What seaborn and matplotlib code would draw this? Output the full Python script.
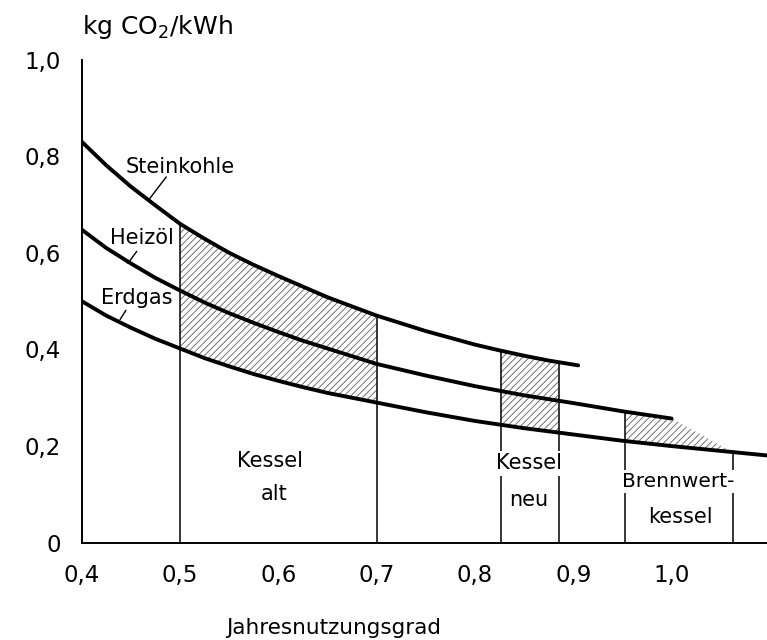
import numpy as np
import pandas as pd
import matplotlib
matplotlib.use('Agg')
import matplotlib.pyplot as plt
import seaborn as sns

# Werte (kg CO2 je kWh Nutzwärme)
eta_kohle = [0.40, 0.425, 0.45, 0.475, 0.50, 0.525, 0.55, 0.575, 0.60, 0.625, 0.65, 0.675,
             0.70, 0.75, 0.80, 0.825, 0.85, 0.875, 0.905]
co2_kohle = [0.830, 0.781, 0.737, 0.698, 0.660, 0.629, 0.600, 0.575, 0.552, 0.530, 0.508, 0.489,
             0.470, 0.438, 0.410, 0.398, 0.387, 0.377, 0.367]

eta_oel = [0.40, 0.425, 0.45, 0.475, 0.50, 0.525, 0.55, 0.575, 0.60, 0.625, 0.65, 0.675,
           0.70, 0.75, 0.80, 0.85, 0.90, 0.95, 1.00]
co2_oel = [0.648, 0.610, 0.578, 0.548, 0.522, 0.497, 0.475, 0.455, 0.436, 0.418, 0.402, 0.386,
           0.370, 0.346, 0.324, 0.305, 0.289, 0.272, 0.257]

eta_gas = [0.40, 0.425, 0.45, 0.475, 0.50, 0.525, 0.55, 0.575, 0.60, 0.625, 0.65, 0.675,
           0.70, 0.75, 0.80, 0.85, 0.90, 0.95, 1.00, 1.05, 1.10]
co2_gas = [0.500, 0.470, 0.445, 0.422, 0.402, 0.382, 0.365, 0.349, 0.335, 0.322, 0.310, 0.300,
           0.290, 0.270, 0.252, 0.237, 0.224, 0.211, 0.200, 0.190, 0.180]

# Bereiche der Kesseltypen (Jahresnutzungsgrad von - bis)
kessel_alt = (0.50, 0.70)
kessel_neu = (0.826, 0.885)
brennwert = (0.953, 1.062)

x_ticks = [0.4, 0.5, 0.6, 0.7, 0.8, 0.9, 1.0]
x_labels = ['0,4', '0,5', '0,6', '0,7', '0,8', '0,9', '1,0']
y_ticks = [0, 0.2, 0.4, 0.6, 0.8, 1.0]
y_labels = ['0', '0,2', '0,4', '0,6', '0,8', '1,0']

sns.set_style('white')
plt.rcParams['font.family'] = ['DejaVu Sans']
plt.rcParams['text.color'] = 'black'
plt.rcParams['axes.labelcolor'] = 'black'
plt.rcParams['hatch.linewidth'] = 0.7

fig = plt.figure(figsize=(7.67, 6.4), dpi=100)
ax = fig.add_axes([0.1065, 0.152, 0.8935, 0.755])

hatch_col = '#707070'


def kohle(x):
    return np.interp(x, eta_kohle, co2_kohle)


def oel(x):
    return np.interp(x, eta_oel, co2_oel)


def gas(x):
    return np.interp(x, eta_gas, co2_gas)


def bereich(a, b, grid):
    xs = [a] + [g for g in grid if a < g < b] + [b]
    return np.array(xs)


# schraffierte Flächen
for a, b in [kessel_alt, kessel_neu]:
    xs = bereich(a, b, eta_kohle)
    ax.fill_between(xs, gas(xs), kohle(xs), facecolor='none', edgecolor=hatch_col,
                    hatch='/////', linewidth=0, zorder=1)

xs = bereich(brennwert[0], brennwert[1], eta_gas)
oben = np.interp(xs, eta_oel + [brennwert[1]], co2_oel + [float(gas(brennwert[1]))])
ax.fill_between(xs, gas(xs), oben, facecolor='none', edgecolor=hatch_col,
                hatch='/////', linewidth=0, zorder=1)

# senkrechte Begrenzungen
grenzen = [kessel_alt[0], kessel_alt[1], kessel_neu[0], kessel_neu[1]]
ax.vlines(grenzen, 0, kohle(grenzen), color='black', lw=1.1, zorder=2)
ax.vlines(brennwert[0], 0, oel(brennwert[0]), color='black', lw=1.1, zorder=2)
ax.vlines(brennwert[1], 0, gas(brennwert[1]), color='black', lw=1.1, zorder=2)

# Kurven
sns.lineplot(x=eta_kohle, y=co2_kohle, color='black', lw=2.8, ax=ax, zorder=3)
sns.lineplot(x=eta_oel, y=co2_oel, color='black', lw=2.8, ax=ax, zorder=3)
sns.lineplot(x=eta_gas, y=co2_gas, color='black', lw=2.8, ax=ax, zorder=3)

# Kurvenbeschriftung mit Hinweislinien
ax.text(0.50, 0.778, 'Steinkohle', ha='center', va='center', fontsize=15)
ax.plot([0.486, 0.468], [0.757, 0.709], color='black', lw=1)
ax.text(0.461, 0.630, 'Heizöl', ha='center', va='center', fontsize=15)
ax.plot([0.456, 0.447], [0.603, 0.578], color='black', lw=1)
ax.text(0.456, 0.506, 'Erdgas', ha='center', va='center', fontsize=15)
ax.plot([0.445, 0.439], [0.481, 0.462], color='black', lw=1)

# Bereichsbeschriftung
weiss = dict(facecolor='white', edgecolor='none', pad=1.5)
ax.text(0.592, 0.170, 'Kessel', ha='center', va='center', fontsize=15)
ax.text(0.596, 0.100, 'alt', ha='center', va='center', fontsize=15)
ax.text(0.855, 0.164, 'Kessel', ha='center', va='center', fontsize=15, bbox=weiss, zorder=4)
ax.text(0.855, 0.088, 'neu', ha='center', va='center', fontsize=15)
ax.text(1.007, 0.126, 'Brennwert-', ha='center', va='center', fontsize=14.5, bbox=weiss, zorder=4)
ax.text(1.009, 0.053, 'kessel', ha='center', va='center', fontsize=15)

# Achsen
ax.set_xlim(0.4, 1.097)
ax.set_ylim(0, 1.0)
ax.set_xticks(x_ticks)
ax.set_xticklabels(x_labels)
ax.set_yticks(y_ticks)
ax.set_yticklabels(y_labels)
ax.tick_params(direction='out', length=10, width=1.3, labelsize=16.5, colors='black', pad=5)
for s in ['top', 'right']:
    ax.spines[s].set_visible(False)
for s in ['left', 'bottom']:
    ax.spines[s].set_linewidth(1.4)
    ax.spines[s].set_color('black')

ax.set_xlabel('Jahresnutzungsgrad', fontsize=15.5)
ax.xaxis.set_label_coords(0.368, -0.155)
ax.set_ylabel('')
ax.text(0.11, 1.067, r'kg CO$_2$/kWh', transform=ax.transAxes, ha='center', va='center',
        fontsize=18)

fig.savefig('out.png', dpi=100)
